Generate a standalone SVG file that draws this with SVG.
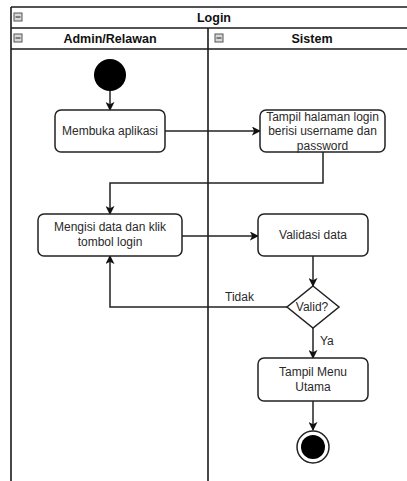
<svg xmlns="http://www.w3.org/2000/svg" width="407" height="481" viewBox="0 0 407 481">
  <style>
    .lane { fill: none; stroke: #1a1a1a; stroke-width: 1.6; }
    .hdr { font-family: "Liberation Sans", Arial, sans-serif; font-size: 12.5px; font-weight: bold; fill: #111; text-anchor: middle; }
    .box { fill: #ffffff; stroke: #222; stroke-width: 1.5; }
    .txt { font-family: "Liberation Sans", Arial, sans-serif; font-size: 12px; fill: #2a2a2a; text-anchor: middle; }
    .lbl { font-family: "Liberation Sans", Arial, sans-serif; font-size: 12px; fill: #2a2a2a; }
    .edge { fill: none; stroke: #222; stroke-width: 1.5; }
    .icon { fill: #d8d8d8; stroke: #555; stroke-width: 1; }
    .iconbar { stroke: #444; stroke-width: 1.2; }
  </style>
  <defs>
    <marker id="arrow" viewBox="0 0 10 10" refX="9" refY="5" markerWidth="9" markerHeight="9" markerUnits="userSpaceOnUse" orient="auto">
      <path d="M0,0 L10,5 L0,10 L2.5,5 Z" fill="#111"/>
    </marker>
  </defs>

  <rect width="407" height="481" fill="#ffffff"/>

  <!-- swimlane frame -->
  <g id="pool">
    <line class="lane" x1="11" y1="7" x2="407" y2="7"/>
    <line class="lane" x1="11" y1="28" x2="407" y2="28"/>
    <line class="lane" x1="11" y1="49" x2="407" y2="49"/>
    <line class="lane" x1="11" y1="7" x2="11" y2="481"/>
    <line class="lane" x1="208" y1="28" x2="208" y2="481"/>
    <rect class="icon" x="14" y="13" width="8" height="8"/>
    <line class="iconbar" x1="15.5" y1="17" x2="20.5" y2="17"/>
    <text class="hdr" x="214" y="22">Login</text>
  </g>
  <g id="lane-admin">
    <rect class="icon" x="14" y="34" width="8" height="8"/>
    <line class="iconbar" x1="15.5" y1="38" x2="20.5" y2="38"/>
    <text class="hdr" x="110" y="43">Admin/Relawan</text>
  </g>
  <g id="lane-sistem">
    <rect class="icon" x="215" y="34" width="8" height="8"/>
    <line class="iconbar" x1="216.5" y1="38" x2="221.5" y2="38"/>
    <text class="hdr" x="312" y="43">Sistem</text>
  </g>

  <!-- connectors -->
  <g id="connectors">
    <path class="edge" d="M110,91 L110,110" marker-end="url(#arrow)"/>
    <path class="edge" d="M165,131 L260,131" marker-end="url(#arrow)"/>
    <path class="edge" d="M323,152 L323,183 L110,183 L110,214" marker-end="url(#arrow)"/>
    <path class="edge" d="M182,236 L258,236" marker-end="url(#arrow)"/>
    <path class="edge" d="M313,256 L313,286" marker-end="url(#arrow)"/>
    <path class="edge" d="M287,307 L110,307 L110,256" marker-end="url(#arrow)"/>
    <path class="edge" d="M313,328 L313,358" marker-end="url(#arrow)"/>
    <path class="edge" d="M313,401 L313,430" marker-end="url(#arrow)"/>
    <text class="lbl" x="225" y="301">Tidak</text>
    <text class="lbl" x="320" y="345">Ya</text>
  </g>

  <!-- nodes -->
  <g id="start">
    <circle cx="110" cy="75" r="16" fill="#000"/>
  </g>
  <g id="membuka">
    <rect class="box" x="55" y="110" width="110" height="42" rx="6"/>
    <text class="txt" x="110" y="135">Membuka aplikasi</text>
  </g>
  <g id="tampil-login">
    <rect class="box" x="260" y="110" width="125" height="42" rx="6"/>
    <text class="txt" x="322.5" y="121">Tampil halaman login</text>
    <text class="txt" x="322.5" y="135">berisi username dan</text>
    <text class="txt" x="322.5" y="150">password</text>
  </g>
  <g id="mengisi">
    <rect class="box" x="38" y="214" width="144" height="42" rx="6"/>
    <text class="txt" x="110" y="231">Mengisi data dan klik</text>
    <text class="txt" x="110" y="246">tombol login</text>
  </g>
  <g id="validasi">
    <rect class="box" x="258" y="214" width="110" height="42" rx="6"/>
    <text class="txt" x="313" y="239">Validasi data</text>
  </g>
  <g id="valid-decision">
    <polygon class="box" points="313,286 339,307 313,328 287,307"/>
    <text class="txt" x="312" y="311">Valid?</text>
  </g>
  <g id="tampil-menu">
    <rect class="box" x="258" y="358" width="110" height="43" rx="6"/>
    <text class="txt" x="313" y="376">Tampil Menu</text>
    <text class="txt" x="313" y="391">Utama</text>
  </g>
  <g id="end">
    <circle cx="313" cy="447" r="16" fill="#fff" stroke="#222" stroke-width="1.5"/>
    <circle cx="313" cy="447" r="12" fill="#000"/>
  </g>
</svg>
